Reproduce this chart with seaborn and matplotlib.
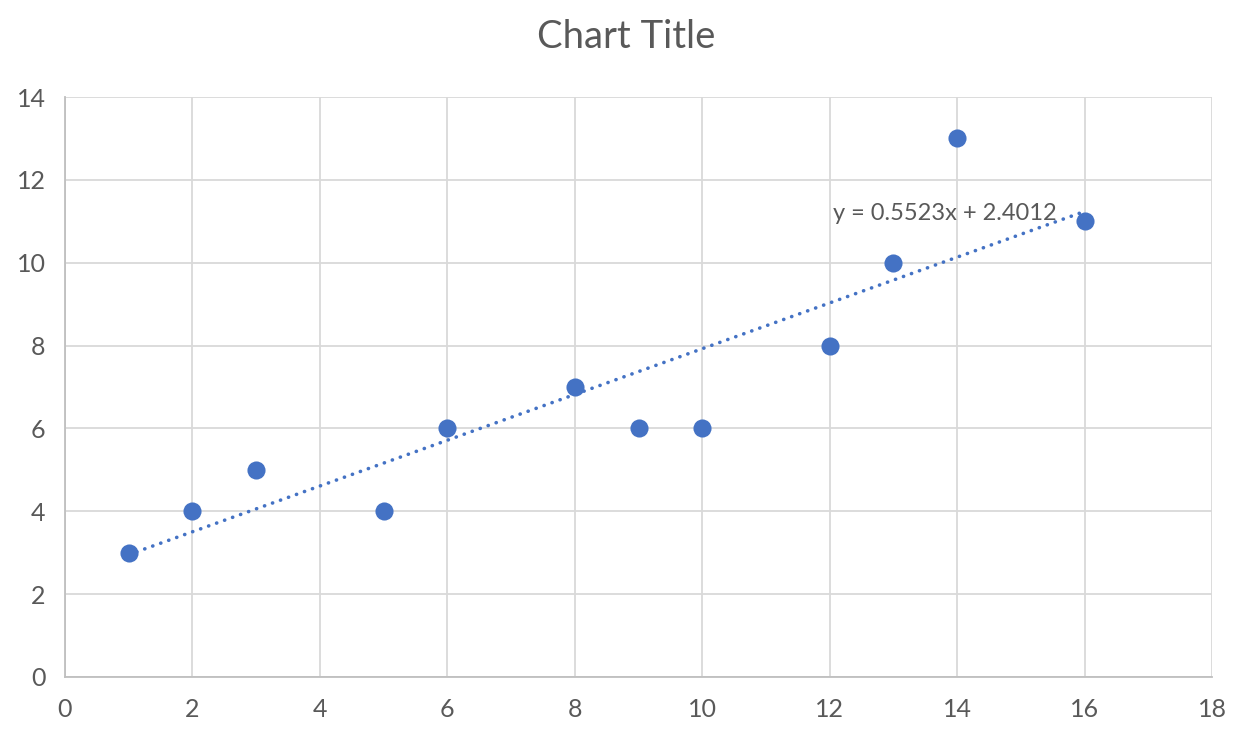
import matplotlib
matplotlib.use("Agg")
import matplotlib.pyplot as plt
import seaborn as sns
import numpy as np
import pandas as pd

x_vals = [1, 2, 3, 5, 6, 8, 9, 10, 12, 13, 14, 16]
y_vals = [3, 4, 5, 4, 6, 7, 6, 6, 8, 10, 13, 11]
slope = 0.5523
intercept = 2.4012
title = "Chart Title"
x_ticks = [0, 2, 4, 6, 8, 10, 12, 14, 16, 18]
y_ticks = [0, 2, 4, 6, 8, 10, 12, 14]

sns.set_theme(style="white")
plt.rcParams['font.family'] = ['Lato', 'DejaVu Sans']

blue = "#4472C4"
txt = "#595959"

df = pd.DataFrame({"x": x_vals, "y": y_vals})

fig = plt.figure(figsize=(12.37, 7.38), dpi=100)
ax = fig.add_axes([65/1237, 1 - 677/738, (1212-65)/1237, (677-97)/738])

sns.scatterplot(data=df, x="x", y="y", ax=ax, color=blue, s=170,
                edgecolor=blue, linewidth=0, zorder=3)

tx = np.array([min(x_vals), max(x_vals)])
ax.plot(tx, slope * tx + intercept, color=blue, linestyle=(0, (0.05, 2.3)),
        linewidth=2.6, dash_capstyle="round", zorder=2)

ax.text(13.8, 11.2, f"y = {slope}x + {intercept}", fontsize=17,
        color=txt, ha="center", va="center", zorder=4)

ax.set_xlim(0, 18)
ax.set_ylim(0, 14)
ax.set_xticks(x_ticks)
ax.set_yticks(y_ticks)
ax.grid(True, color="#D9D9D9", linewidth=1.3)
ax.set_axisbelow(True)
for s in ["top", "right"]:
    ax.spines[s].set_visible(False)
for s in ["left", "bottom"]:
    ax.spines[s].set_color("#BFBFBF")
    ax.spines[s].set_linewidth(1.3)
ax.tick_params(axis="both", length=0, labelsize=18, colors=txt)
ax.tick_params(axis="x", pad=15)
ax.tick_params(axis="y", pad=14)
ax.set_xlabel("")
ax.set_ylabel("")
fig.text(626/1237, 1 - 37/738, title, ha="center", va="center", fontsize=27.5, color=txt)

fig.savefig("out.png", dpi=100, facecolor="white")
